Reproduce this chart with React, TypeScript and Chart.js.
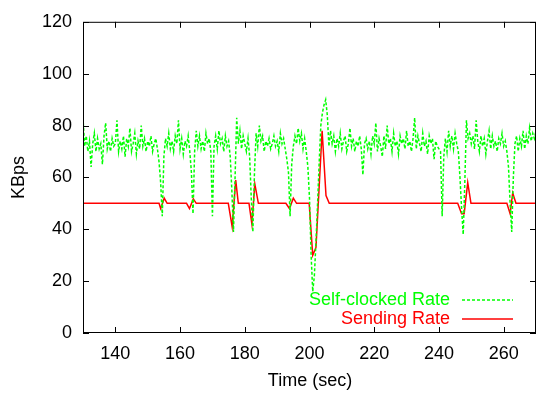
import React, { useEffect, useRef } from "react";
import { Chart, registerables } from "chart.js";

Chart.register(...registerables);

// Self-clocked rate, sampled every 0.5 s starting at 130 s
const selfStart = 130;
const selfStep = 0.5;
const selfClocked = [
  // 130 - 139.5
  83, 72, 76, 70, 74, 64, 73, 77, 70, 75, 71, 73, 65, 76, 81, 71, 74, 70, 75, 72,
  // 140 - 149.5
  73, 82, 70, 74, 71, 76, 68, 75, 72, 79, 70, 73, 77, 69, 74, 71, 80, 72, 75, 70,
  // 150 - 159.5
  74, 72, 76, 70, 73, 75, 71, 66, 58, 45, 68, 75, 72, 77, 71, 74, 70, 76, 73, 82,
  // 160 - 169.5
  71, 75, 69, 74, 72, 76, 70, 62, 46, 70, 78, 72, 76, 71, 74, 70, 77, 73, 75, 70,
  // 170 - 179.5
  45, 72, 76, 71, 78, 73, 75, 70, 76, 72, 74, 68, 55, 39, 60, 83, 73, 78, 71, 76,
  // 180 - 189.5
  73, 70, 75, 68, 52, 39, 62, 77, 72, 80, 74, 76, 70, 74, 72, 75, 71, 73, 76, 72,
  // 190 - 199.5
  74, 70, 77, 73, 75, 71, 67, 62, 45, 65, 72, 76, 73, 79, 74, 77, 71, 75, 70, 64,
  // 200 - 209.5
  52, 30, 16, 22, 35, 50, 66, 80, 85, 88, 90, 84, 72, 78, 73, 76, 70, 75, 72, 77,
  // 210 - 219.5
  71, 74, 76, 70, 73, 79, 72, 75, 70, 74, 72, 76, 71, 61, 73, 75, 71, 74, 69, 76,
  // 220 - 229.5
  73, 81, 70, 75, 72, 68, 76, 71, 80, 73, 75, 70, 77, 72, 74, 69, 76, 73, 75, 71,
  // 230 - 239.5
  78, 72, 74, 70, 75, 83, 71, 76, 73, 70, 77, 72, 74, 69, 76, 73, 75, 67, 74, 72,
  // 240 - 249.5
  71, 70, 45, 68, 75, 70, 78, 72, 76, 71, 77, 73, 70, 60, 48, 38, 58, 82, 75, 77,
  // 250 - 259.5
  73, 76, 71, 82, 74, 70, 76, 72, 75, 69, 74, 78, 71, 76, 72, 74, 70, 75, 73, 77,
  // 260 - 269.5
  72, 74, 70, 64, 50, 39, 60, 73, 76, 70, 75, 72, 78, 71, 76, 73, 79, 74, 77, 75,
  // 270
  78,
];

// Sending rate, piecewise points
const sendTimes = [
  130, 153.5, 154, 155.1, 156, 162, 162.9, 164.1, 165, 174.9, 176.1, 177.2, 178,
  181.3, 182.2, 183.1, 184.2, 192.7, 193.8, 195, 196, 199.9, 201, 202, 203.9,
  205.1, 206.1, 245.8, 247, 247.8, 248.9, 249.9, 261, 262, 262.8, 263.8, 270,
];
const sendRates = [
  50, 50, 48, 52, 50, 50, 48, 51.7, 50, 50, 41, 59, 50,
  50, 42, 57.5, 50, 50, 48, 52, 50, 50, 30, 33, 78,
  53, 50, 50, 46, 46, 58, 50, 50, 46, 54, 50, 50,
];

const xTicks = [140, 160, 180, 200, 220, 240, 260];
const yTicks = [0, 20, 40, 60, 80, 100, 120];
const xRange = [130, 270];
const yRange = [0, 120];

const seriesNames = ["Self-clocked Rate", "Sending Rate"];
const seriesColors = ["#00ff00", "#ff0000"];
const axisTitles = { x: "Time (sec)", y: "KBps" };

const FONT = "'Liberation Sans', Arial, Helvetica, sans-serif";
const FONT_SIZE = 18;

const framePlugin = {
  id: "gnuplotFrame",
  afterDatasetsDraw(chart: any) {
    const { ctx, chartArea, scales } = chart;
    const { left, right, top, bottom } = chartArea;
    ctx.save();
    ctx.strokeStyle = "#000";
    ctx.lineWidth = 1;
    ctx.strokeRect(left + 0.5, top + 0.5, right - left - 1, bottom - top - 1);
    const tl = 6;
    ctx.beginPath();
    for (const v of xTicks) {
      const px = Math.round(scales.x.getPixelForValue(v)) + 0.5;
      ctx.moveTo(px, bottom);
      ctx.lineTo(px, bottom - tl);
      ctx.moveTo(px, top);
      ctx.lineTo(px, top + tl);
    }
    for (const v of yTicks) {
      const py = Math.round(scales.y.getPixelForValue(v)) + 0.5;
      ctx.moveTo(left, py);
      ctx.lineTo(left + tl, py);
      ctx.moveTo(right, py);
      ctx.lineTo(right - tl, py);
    }
    ctx.stroke();

    // axis titles
    ctx.fillStyle = "#000";
    ctx.font = `${FONT_SIZE}px ${FONT}`;
    ctx.textAlign = "center";
    ctx.textBaseline = "middle";
    ctx.fillText(axisTitles.x, 310, 381);
    ctx.save();
    ctx.translate(19, (top + bottom) / 2);
    ctx.rotate(-Math.PI / 2);
    ctx.fillText(axisTitles.y, 0, 0);
    ctx.restore();

    // legend (inside, bottom-right)
    const textX = 450;
    const lineX0 = 462;
    const lineX1 = 513;
    const rowsY = [300, 319];
    ctx.textAlign = "right";
    seriesNames.forEach((name, i) => {
      const y = rowsY[i];
      ctx.fillStyle = seriesColors[i];
      ctx.fillText(name, textX, y);
      ctx.strokeStyle = seriesColors[i];
      ctx.lineWidth = 1.5;
      ctx.setLineDash(i === 0 ? [3, 2] : []);
      ctx.beginPath();
      ctx.moveTo(lineX0, y);
      ctx.lineTo(lineX1, y);
      ctx.stroke();
    });
    ctx.setLineDash([]);
    ctx.restore();
  },
};

export default function App() {
  const canvasRef = useRef<HTMLCanvasElement | null>(null);

  useEffect(() => {
    const canvas = canvasRef.current;
    if (!canvas) return;
    const greenData = selfClocked.map((v, i) => ({ x: selfStart + i * selfStep, y: v }));
    const redData = sendTimes.map((t, i) => ({ x: t, y: sendRates[i] }));

    const chart = new Chart(canvas, {
      type: "line",
      data: {
        datasets: [
          {
            label: seriesNames[0],
            data: greenData,
            borderColor: seriesColors[0],
            borderWidth: 1.5,
            borderDash: [3, 2],
            pointRadius: 0,
            tension: 0,
            fill: false,
          },
          {
            label: seriesNames[1],
            data: redData,
            borderColor: seriesColors[1],
            borderWidth: 1.5,
            pointRadius: 0,
            tension: 0,
            fill: false,
          },
        ],
      },
      options: {
        responsive: false,
        animation: false,
        events: [],
        layout: { padding: { left: 0, top: 14, right: 17, bottom: 0 } },
        plugins: {
          legend: { display: false },
          tooltip: { enabled: false },
        },
        scales: {
          x: {
            type: "linear",
            min: xRange[0],
            max: xRange[1],
            grid: { display: false, drawTicks: false },
            border: { display: false },
            afterBuildTicks: (scale: any) => {
              scale.ticks = xTicks.map((v) => ({ value: v }));
            },
            afterFit: (scale: any) => {
              scale.height = 63;
            },
            ticks: {
              padding: 10,
              color: "#000",
              font: { family: FONT, size: FONT_SIZE },
              maxRotation: 0,
              autoSkip: false,
            },
          },
          y: {
            type: "linear",
            min: yRange[0],
            max: yRange[1],
            grid: { display: false, drawTicks: false },
            border: { display: false },
            afterBuildTicks: (scale: any) => {
              scale.ticks = yTicks.map((v) => ({ value: v }));
            },
            afterFit: (scale: any) => {
              scale.width = 83;
            },
            ticks: {
              padding: 11,
              color: "#000",
              font: { family: FONT, size: FONT_SIZE },
              autoSkip: false,
            },
          },
        },
      },
      plugins: [framePlugin],
    });
    return () => chart.destroy();
  }, []);

  return (
    <div style={{ position: "absolute", left: 0, top: 0, width: 553, height: 396, background: "#fff" }}>
      <canvas ref={canvasRef} width={553} height={396} style={{ display: "block" }} />
    </div>
  );
}
